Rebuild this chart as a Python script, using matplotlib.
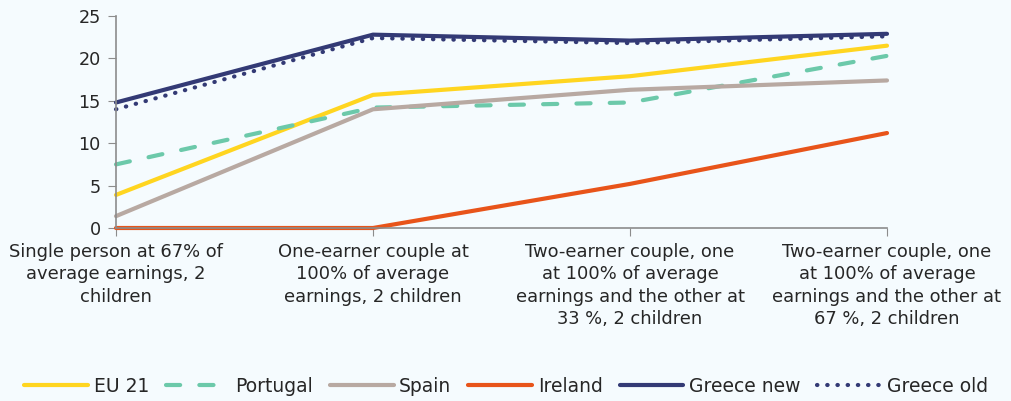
import matplotlib
matplotlib.use("Agg")
import matplotlib.pyplot as plt
from matplotlib.ticker import MultipleLocator

plt.rcParams['font.family'] = ['DejaVu Sans']

categories = [
    "Single person at 67% of\naverage earnings, 2\nchildren",
    "One-earner couple at\n100% of average\nearnings, 2 children",
    "Two-earner couple, one\nat 100% of average\nearnings and the other at\n33 %, 2 children",
    "Two-earner couple, one\nat 100% of average\nearnings and the other at\n67 %, 2 children",
]
eu21 = [3.9, 15.7, 17.9, 21.5]
portugal = [7.5, 14.2, 14.8, 20.3]
spain = [1.4, 14.0, 16.3, 17.4]
ireland = [0.0, 0.0, 5.2, 11.2]
greece_new = [14.8, 22.8, 22.1, 22.9]
greece_old = [14.0, 22.4, 21.8, 22.6]

bg = '#F5FBFE'
txt = '#262626'

fig = plt.figure(figsize=(10.12, 4.01), dpi=100, facecolor=bg)
ax = fig.add_axes([116/1012, 1-228/401, (887-116)/1012, (228-16)/401], facecolor=bg)

x = list(range(len(categories)))
lw = 3.0
ax.plot(x, eu21, color='#FFD520', lw=lw, solid_capstyle='round', label='EU 21')
ax.plot(x, portugal, color='#6CC9AA', lw=lw, dashes=(3.4, 4.6), dash_capstyle='round', label='Portugal')
ax.plot(x, spain, color='#B8A9A2', lw=lw, solid_capstyle='round', label='Spain')
ax.plot(x, ireland, color='#E8541A', lw=lw, solid_capstyle='round', label='Ireland')
ax.plot(x, greece_new, color='#333A75', lw=lw, solid_capstyle='round', label='Greece new')
ax.plot(x, greece_old, color='#333A75', lw=lw, dashes=(0.1, 2.35), dash_capstyle='round', label='Greece old')

ax.set_xlim(0, 3)
ax.set_ylim(0, 25)
ax.yaxis.set_major_locator(MultipleLocator(5))
ax.set_xticks(x)
ax.set_xticklabels(categories, fontsize=12.9, color=txt, linespacing=1.3)
ax.tick_params(axis='x', length=6, color='#8C8C8C', pad=5)
ax.tick_params(axis='y', length=6, color='#8C8C8C', labelsize=12.7, labelcolor=txt, pad=5)
for s in ['top', 'right']:
    ax.spines[s].set_visible(False)
for s in ['left', 'bottom']:
    ax.spines[s].set_color('#8C8C8C')
    ax.spines[s].set_linewidth(1.2)
for l in ax.lines:
    l.set_clip_on(False)

fig.legend(loc='center', bbox_to_anchor=(0.5, 1-386/401), ncol=6, frameon=False,
           fontsize=13.5, handlelength=3.4, handletextpad=0.3, columnspacing=0.9,
           labelcolor=txt, borderaxespad=0)

fig.savefig('out.png', dpi=100, facecolor=bg)
